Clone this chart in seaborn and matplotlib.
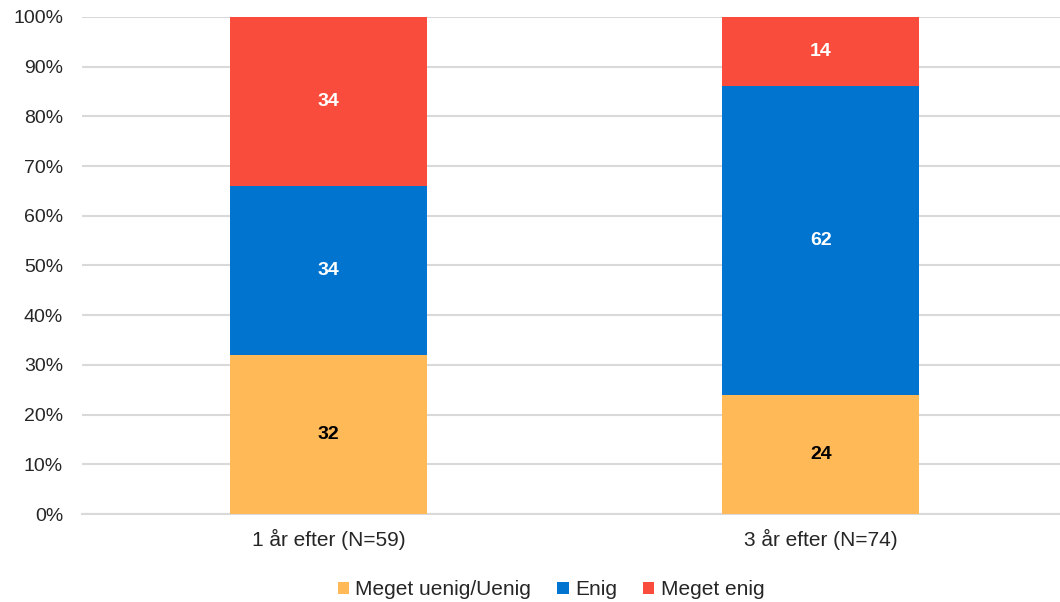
import pandas as pd
import matplotlib.pyplot as plt
import seaborn as sns
from matplotlib.ticker import PercentFormatter

# Data
groups = ["1 år efter (N=59)", "3 år efter (N=74)"]
categories = ["Meget uenig/Uenig", "Enig", "Meget enig"]
uenig = [32, 24]
enig = [34, 62]
meget_enig = [34, 14]
colors = ["#FFB957", "#0074CE", "#F94C3C"]
label_colors = ["black", "white", "white"]

df = pd.DataFrame({
    "Gruppe": groups * 3,
    "Svar": [c for c in categories for _ in groups],
    "Andel": uenig + enig + meget_enig,
})

sns.set_style("white")
plt.rcParams["font.family"] = ["Liberation Sans", "DejaVu Sans"]

fig, ax = plt.subplots(figsize=(10.6, 6.02), dpi=100)
fig.subplots_adjust(left=0.0778, right=1.0066, top=0.972, bottom=0.146)

bottom = [0, 0]
for cat, col, lc in zip(categories, colors, label_colors):
    sub = df[df["Svar"] == cat]
    sns.barplot(data=sub, x="Gruppe", y="Andel", color=col, width=0.4,
                bottom=bottom, label=cat, ax=ax, zorder=3, saturation=1,
                linewidth=0, edgecolor="none")
    for i, v in enumerate(sub["Andel"]):
        ax.text(i, bottom[i] + v / 2, str(v), ha="center", va="center",
                color=lc, fontsize=14, fontweight="bold", zorder=4)
    bottom = [b + v for b, v in zip(bottom, sub["Andel"])]

ax.set_ylim(0, 100)
ax.set_yticks(range(0, 101, 10))
ax.yaxis.set_major_formatter(PercentFormatter(decimals=0))
ax.grid(axis="y", color="#D9D9D9", linewidth=1.5, zorder=0)
for s in ["top", "right", "left"]:
    ax.spines[s].set_visible(False)
ax.spines["bottom"].set_color("#D9D9D9")
ax.spines["bottom"].set_linewidth(1.5)
ax.tick_params(axis="y", labelsize=14, colors="#262626", length=0, pad=14)
ax.tick_params(axis="x", labelsize=15, colors="#262626", length=0, pad=11)
ax.set_xlabel("")
ax.set_ylabel("")

ax.legend(loc="center", bbox_to_anchor=(551 / 1060, 0.02),
          bbox_transform=fig.transFigure, ncol=3, frameon=False,
          fontsize=15, handlelength=0.55, handleheight=0.55, handletextpad=0.3,
          columnspacing=1.25, labelcolor="#262626")

fig.savefig("out.png", dpi=100)
